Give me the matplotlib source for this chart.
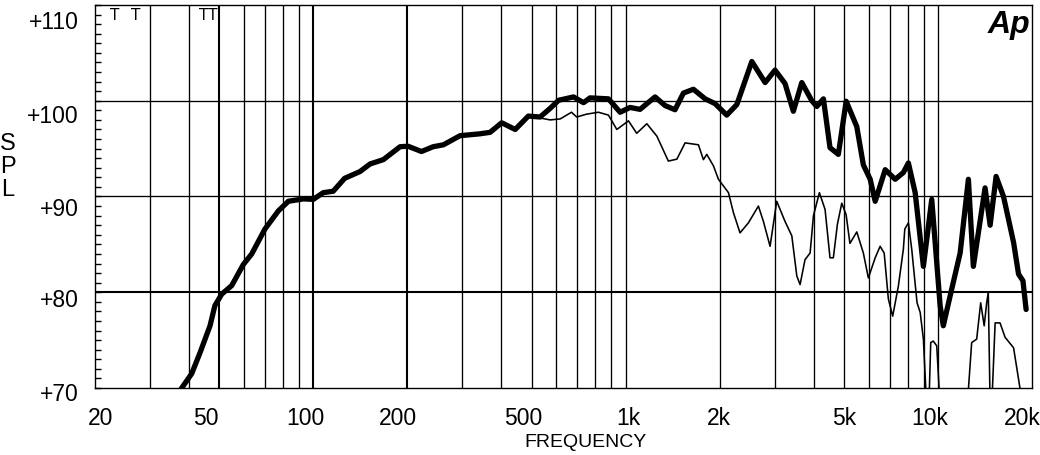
import matplotlib
matplotlib.use('Agg')
import matplotlib.pyplot as plt
from matplotlib.transforms import ScaledTranslation
from matplotlib.ticker import MultipleLocator, NullLocator, NullFormatter

# ---------------- data ----------------
freq_on = [36, 37.9, 40.8, 43.4, 46.7, 48.4, 50.9, 54.8, 59.7, 63.5, 70, 77.3, 83.2,
           92.9, 100, 107.6, 115.8, 126, 141, 152, 167.6, 189.6, 201, 222, 242, 261,
           295, 342, 368, 401, 443, 488, 532, 573, 610, 681, 733, 769, 881, 960, 1033,
           1112, 1242, 1337, 1439, 1531, 1648, 1797, 1933, 2107, 2270, 2535, 2796,
           3008, 3238, 3443, 3664, 3945, 4093, 4298, 4511, 4797, 5082, 5496, 5768,
           6066, 6295, 6776, 7296, 7748, 8040, 8452, 8980, 9551, 10160, 10400, 10934,
           11776, 12513, 12980, 14150, 14690, 15350, 16210, 17460, 18110, 18710, 19150]
spl_on = [68.5, 70.0, 71.5, 73.7, 76.5, 78.6, 79.8, 80.7, 82.9, 84.0, 86.6, 88.5, 89.5,
          89.75, 89.7, 90.4, 90.55, 91.9, 92.6, 93.4, 93.85, 95.2, 95.25, 94.7, 95.2, 95.4,
          96.35, 96.55, 96.7, 97.7, 97.0, 98.4, 98.3, 99.2, 100.05, 100.4, 99.8, 100.3, 100.2,
          98.8, 99.3, 99.1, 100.4, 99.5, 99.06, 100.8, 101.2, 100.2, 99.7, 98.5, 99.6, 104.1,
          101.9, 103.2, 101.8, 98.9, 101.9, 100.0, 99.4, 100.2, 95.1, 94.4, 99.95, 97.3, 93.3,
          91.8, 89.5, 92.8, 91.8, 92.5, 93.5, 90.4, 82.7, 89.7, 78.6, 76.5, 79.6,
          84.1, 91.8, 82.7, 90.9, 87.0, 92.1, 90.0, 85.2, 81.9, 81.2, 78.2]

freq_off = [488, 532, 573, 617, 671, 697, 750, 818, 881, 937, 1021, 1085, 1169, 1259,
            1370, 1459, 1550, 1710, 1774, 1819, 1910, 1982, 2134, 2214, 2324, 2472, 2661,
            2761, 2900, 3046, 3238, 3404, 3532, 3618, 3752, 3896, 3993, 4172, 4350, 4511,
            4624, 4764, 4920, 5080, 5225, 5496, 5768, 5985, 6295, 6527, 6726, 6936, 7161,
            7464, 7748, 7830, 8040, 8240, 8570, 8770, 8980, 9200, 9350, 9480, 9660, 9910,
            10160, 11000, 12400, 12820, 13300, 13700, 14060, 14320, 14490, 14690, 14860,
            15240, 15800, 16400, 17460, 18300, 18800]
spl_off = [98.4, 98.2, 98.0, 98.1, 98.8, 98.3, 98.6, 98.8, 98.5, 97.0, 97.9, 96.6, 97.6, 96.3,
           93.7, 93.9, 95.6, 95.4, 93.85, 94.4, 93.2, 91.8, 90.4, 88.3, 86.2, 87.25, 89.0,
           87.4, 84.8, 89.5, 87.4, 85.9, 81.7, 80.8, 83.4, 84.1, 88.0, 90.4, 88.65, 83.6,
           83.6, 87.1, 89.3, 88.1, 85.1, 86.3, 84.1, 81.5, 83.6, 84.8, 84.1, 79.3, 77.5,
           80.6, 84.5, 86.6, 87.25, 84.5, 78.9, 77.9, 75.1, 68.0, 68.0, 74.75, 74.9, 74.4,
           68.0, 66.0, 68.0, 74.75, 75.1, 78.9, 76.5, 78.9, 80.0, 68.0, 68.0,
           76.8, 76.8, 75.3, 74.2, 70.0, 67.0]

x_tick_values = [20, 50, 100, 200, 500, 1000, 2000, 5000, 10000, 20000]
x_tick_labels = ['20', '50', '100', '200', '500', '1k', '2k', '5k', '10k', '20k']
y_tick_values = [70, 80, 90, 100, 110]
y_tick_labels = ['+70', '+80', '+90', '+100', '+110']
marker_freqs = [23.2, 26.9, 46.2]
marker_texts = ['T', 'T', 'TT']

# ---------------- layout / style ----------------
x_label_shift_px = [6, -13, -8, -9.5, -8, 2.5, -1, 0, -8, -10]
y_label_shift_px = [3.5, 4.5, 9.5, 12, 14.5]

FONT = ['Liberation Sans', 'DejaVu Sans']
plt.rcParams['font.family'] = FONT

W, H = 1040, 456
fig = plt.figure(figsize=(W / 100, H / 100), dpi=100)
ax = fig.add_axes([95 / W, 67 / H, 937 / W, 383 / H])
ax.set_xscale('log')
ax.set_xlim(20, 20000)
ax.set_ylim(70, 110)

# grid lines
grid_freqs = [m * 10 ** e for e in (1, 2, 3, 4) for m in range(1, 10)
              if 20 < m * 10 ** e < 20000]
thick_grid = {50, 100, 200}
for f in grid_freqs:
    ax.axvline(f, color='black', lw=1.5 if f in thick_grid else 0.95, zorder=1)
for yv in y_tick_values[1:-1]:
    ax.axhline(yv, color='black', lw=1.5 if yv == 80 else 0.95, zorder=1)

ax.plot(freq_off, spl_off, color='black', lw=1.15, zorder=3,
        solid_joinstyle='round')
ax.plot(freq_on, spl_on, color='black', lw=3.8, zorder=4,
        solid_joinstyle='round', solid_capstyle='round')

for s in ax.spines.values():
    s.set_linewidth(1.0)

# ticks
ax.set_xticks(x_tick_values, x_tick_labels)
ax.xaxis.set_minor_locator(NullLocator())
ax.xaxis.set_minor_formatter(NullFormatter())
ax.tick_params(axis='x', which='both', length=0, pad=13, labelsize=16.5)
ax.set_yticks(y_tick_values, y_tick_labels)
ax.yaxis.set_minor_locator(MultipleLocator(1))
ax.tick_params(axis='y', which='both', direction='in', length=4, width=1,
               pad=12, labelsize=16.5)

for lab, dx in zip(ax.get_xticklabels(), x_label_shift_px):
    lab.set_transform(lab.get_transform() +
                      ScaledTranslation(dx / 100, 0, fig.dpi_scale_trans))
for lab, dy in zip(ax.get_yticklabels(), y_label_shift_px):
    lab.set_transform(lab.get_transform() +
                      ScaledTranslation(0, -dy / 100, fig.dpi_scale_trans))

ax.set_xlabel('FREQUENCY', fontsize=14)
ax.xaxis.set_label_coords(0.524, -0.118)

fig.text(8 / W, 1 - 167 / H, 'S\nP\nL', ha='center', va='center',
         fontsize=17, linespacing=1.08)

# cursor marks at the top
for f, t in zip(marker_freqs, marker_texts):
    ax.annotate(t, xy=(f, 1), xycoords=('data', 'axes fraction'),
                xytext=(0, -1.5), textcoords='offset points',
                ha='center', va='top', fontsize=11, family=['DejaVu Sans'],
                color='black')

# Ap logo
ax.text(0.998, 0.99, 'Ap', transform=ax.transAxes, ha='right', va='top',
        fontsize=23, fontweight='heavy', fontstyle='italic',
        family=['Liberation Sans', 'DejaVu Sans'], zorder=6)

fig.savefig('out.png', dpi=100)
